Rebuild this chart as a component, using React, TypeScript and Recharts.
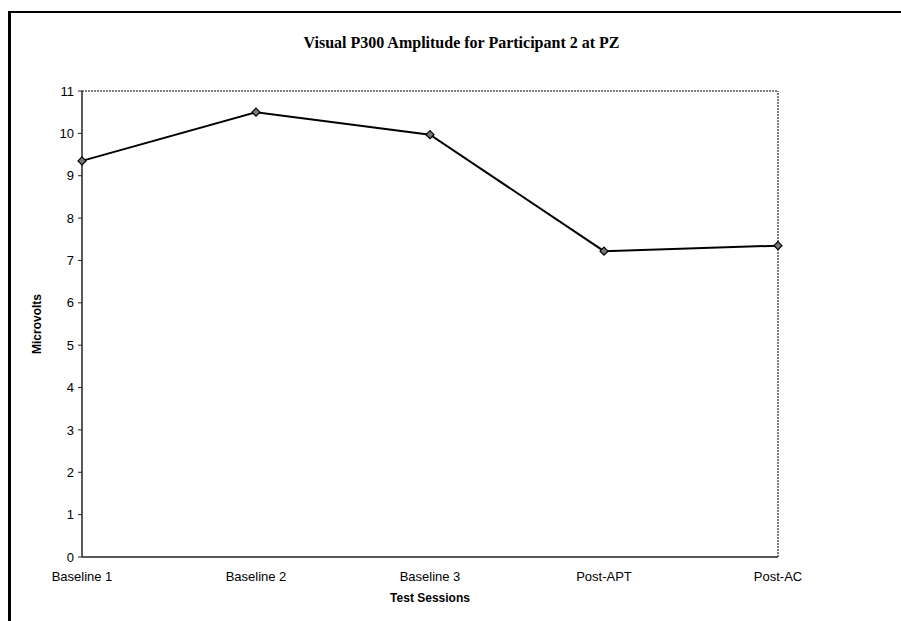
import React from 'react';
import { LineChart, Line, XAxis, YAxis, ReferenceLine } from 'recharts';

const sessions = ['Baseline 1', 'Baseline 2', 'Baseline 3', 'Post-APT', 'Post-AC'];
const amplitudes = [9.35, 10.5, 9.97, 7.22, 7.35];
const yTicks = [0, 1, 2, 3, 4, 5, 6, 7, 8, 9, 10, 11];

const data = sessions.map((s, i) => ({ session: s, value: amplitudes[i] }));

const font = '"Liberation Sans", Arial, sans-serif';

const Diamond = (props: any) => {
  const { cx, cy } = props;
  if (cx == null || cy == null) return null;
  const r = 4;
  return (
    <path
      d={`M${cx},${cy - r} L${cx + r},${cy} L${cx},${cy + r} L${cx - r},${cy} Z`}
      fill="#777"
      stroke="#000"
      strokeWidth={1.2}
    />
  );
};

const YLabel = (props: any) => {
  const vb = props.viewBox || {};
  const x = vb.x + 37;
  const y = vb.y + vb.height / 2;
  return (
    <text
      x={x}
      y={y}
      transform={`rotate(-90, ${x}, ${y})`}
      textAnchor="middle"
      dominantBaseline="central"
      fontFamily={font}
      fontWeight="bold"
      fontSize={12}
      fill="#000"
    >
      Microvolts
    </text>
  );
};

const XLabel = (props: any) => {
  const vb = props.viewBox || {};
  const x = vb.x + vb.width / 2;
  const y = vb.y + 41;
  return (
    <text
      x={x}
      y={y}
      textAnchor="middle"
      dominantBaseline="central"
      fontFamily={font}
      fontWeight="bold"
      fontSize={12}
      fill="#000"
    >
      Test Sessions
    </text>
  );
};

export default function App() {
  return (
    <div style={{ position: 'absolute', left: 0, top: 0, width: 901, height: 621, background: '#fff', overflow: 'hidden' }}>
      <div
        style={{
          position: 'absolute',
          left: 8,
          top: 11,
          width: 900,
          height: 620,
          borderLeft: '3px solid #000',
          borderTop: '2px solid #000',
        }}
      />
      <div
        style={{
          position: 'absolute',
          left: 0,
          top: 34,
          width: 923,
          textAlign: 'center',
          fontFamily: '"Liberation Serif", "Times New Roman", serif',
          fontWeight: 'bold',
          fontSize: 16,
          color: '#000',
        }}
      >
        Visual P300 Amplitude for Participant 2 at PZ
      </div>
      <div style={{ position: 'absolute', left: 0, top: 0 }}>
        <LineChart width={901} height={621} data={data} margin={{ top: 91, right: 123, bottom: 24, left: 0 }}>
          <ReferenceLine y={11} stroke="#555" strokeDasharray="2 1" strokeWidth={1.5} />
          <ReferenceLine x="Post-AC" stroke="#555" strokeDasharray="2 1" strokeWidth={1.5} />
          <XAxis
            dataKey="session"
            height={40}
            tickLine={false}
            tickSize={4}
            tickMargin={11}
            axisLine={{ stroke: '#222', strokeWidth: 1.5 }}
            tick={{ fontFamily: font, fontSize: 13, fill: '#000' }}
            interval={0}
            label={<XLabel />}
          />
          <YAxis
            width={82}
            domain={[0, 11]}
            ticks={yTicks}
            interval={0}
            tickSize={4}
            tickMargin={4}
            axisLine={{ stroke: '#222', strokeWidth: 1.5 }}
            tickLine={{ stroke: '#222' }}
            tick={{ fontFamily: font, fontSize: 13, fill: '#000' }}
            label={<YLabel />}
          />
          <Line
            type="linear"
            dataKey="value"
            stroke="#000"
            strokeWidth={2}
            dot={<Diamond />}
            activeDot={false}
            isAnimationActive={false}
          />
        </LineChart>
      </div>
    </div>
  );
}
